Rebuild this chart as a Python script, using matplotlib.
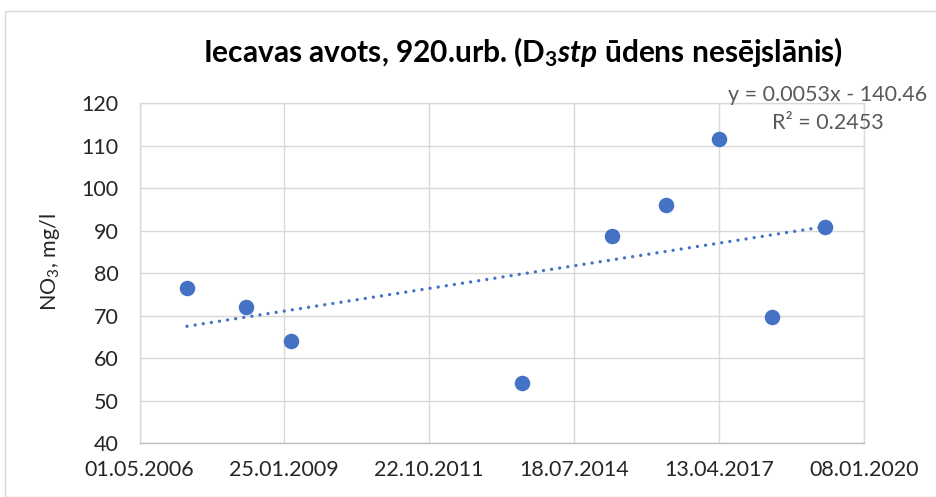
from datetime import datetime, timedelta

import matplotlib
matplotlib.use("Agg")
import matplotlib.dates as mdates
import matplotlib.pyplot as plt
import numpy as np
from matplotlib.patches import Rectangle

# sampling dates and nitrate values
dates = ["25.03.2007", "05.05.2008", "14.03.2009", "24.07.2013", "04.04.2015",
         "15.04.2016", "12.04.2017", "17.04.2018", "16.04.2019"]
no3 = [76.6, 72.1, 64.1, 54.2, 88.7, 96.0, 111.5, 69.7, 91.0]

title = "Iecavas avots, 920.urb. (D$_\\mathbf{3}$$\\mathbfit{stp}$ ūdens nesējslānis)"
ylabel = "NO$_3$, mg/l"
eq_text = "y = 0.0053x - 140.46"
r2_text = "R² = 0.2453"
x_start = "01.05.2006"
x_step_days = 1000
n_xticks = 6
y_ticks = [40, 50, 60, 70, 80, 90, 100, 110, 120]

plt.rcParams["font.family"] = ["Lato", "DejaVu Sans"]
plt.rcParams["mathtext.fontset"] = "custom"
plt.rcParams["mathtext.rm"] = "Lato"
plt.rcParams["mathtext.it"] = "Lato:italic"
plt.rcParams["mathtext.bf"] = "Lato:bold"
plt.rcParams["mathtext.bfit"] = "Lato:bold:italic"

BLUE = "#4472C4"
GRID = "#d9d9d9"
W, H = 936, 497

x = mdates.date2num([datetime.strptime(d, "%d.%m.%Y") for d in dates])
y = np.array(no3)
t0 = datetime.strptime(x_start, "%d.%m.%Y")
xt = mdates.date2num([t0 + timedelta(days=x_step_days * k) for k in range(n_xticks)])

fig = plt.figure(figsize=(W / 100, H / 100), dpi=100)
fig.patches.append(Rectangle((5 / W, 0), 1.2, 1 - 11 / H, transform=fig.transFigure,
                             fill=False, edgecolor=GRID, linewidth=1.0))

ax = fig.add_axes([139.5 / W, 1 - 443.3 / H, 724.2 / W, 340 / H])
ax.set_xlim(xt[0], xt[-1])
ax.set_ylim(y_ticks[0], y_ticks[-1])
ax.set_xticks(xt)
ax.set_yticks(y_ticks)
ax.xaxis.set_major_formatter(mdates.DateFormatter("%d.%m.%Y"))
ax.grid(True, color=GRID, linewidth=1.0)
ax.set_axisbelow(True)
for s in ax.spines.values():
    s.set_color(GRID)
    s.set_linewidth(1.0)
ax.spines["bottom"].set_color("#bfbfbf")
ax.tick_params(length=0, labelsize=15.5, labelcolor="#262626")
ax.tick_params(axis="x", pad=12)
ax.tick_params(axis="y", pad=15)

ax.scatter(x, y, s=125, color=BLUE, zorder=3, linewidths=0)

# linear trend over the data range
k, b = np.polyfit(x, y, 1)
xl = np.array([x.min(), x.max()])
ax.plot(xl, k * xl + b, color=BLUE, linewidth=2.4, linestyle=(0, (0.01, 2.45)),
        dash_capstyle="round", zorder=2)

fig.text(523 / W, 1 - 52 / H, title, ha="center", va="center",
         fontsize=21.5, fontweight="bold", color="black")
fig.text(50 / W, 1 - 262 / H, ylabel, rotation=90, ha="center", va="center",
         fontsize=15.5, color="#262626")
fig.text(828 / W, 1 - 95 / H, eq_text, ha="center", va="center",
         fontsize=15.5, color="#595959")
fig.text(828 / W, 1 - 123 / H, r2_text, ha="center", va="center",
         fontsize=15.5, color="#595959")

fig.savefig("out.png", dpi=100)
